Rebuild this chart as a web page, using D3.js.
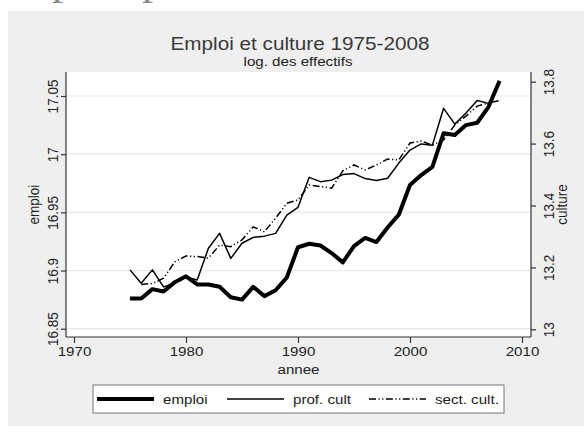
<!DOCTYPE html>
<html>
<head>
<meta charset="utf-8">
<script src="https://cdn.jsdelivr.net/npm/d3@7"></script>
<style>
  body { margin: 0; background: #fff; }
  text { font-family: "Liberation Sans", Arial, sans-serif; }
</style>
</head>
<body>
<script>
// data
var years = d3.range(1975, 2009);
var emploi = [16.876, 16.876, 16.884, 16.882, 16.890, 16.895, 16.888, 16.888, 16.886, 16.877,
              16.875, 16.886, 16.878, 16.883, 16.894, 16.920, 16.923, 16.9215, 16.915, 16.907,
              16.921, 16.928, 16.9245, 16.937, 16.948, 16.9735, 16.982, 16.989, 17.018, 17.0165,
              17.025, 17.027, 17.0405, 17.063];
var profYears = d3.range(1975, 2008);
var profCult = [13.192, 13.149, 13.192, 13.137, 13.150, 13.169, 13.159, 13.262, 13.310, 13.229,
                13.278, 13.297, 13.301, 13.310, 13.369, 13.394, 13.491, 13.477, 13.482, 13.500,
                13.503, 13.487, 13.481, 13.488, 13.537, 13.579, 13.599, 13.595, 13.714, 13.663,
                13.699, 13.739, 13.730];
var sectYears = d3.range(1976, 2009);
var sectCult = [13.145, 13.148, 13.165, 13.218, 13.237, 13.235, 13.230, 13.272, 13.267,
                13.289, 13.331, 13.315, 13.359, 13.407, 13.418, 13.466, 13.461, 13.456, 13.512,
                13.531, 13.515, 13.531, 13.550, 13.547, 13.602, 13.608, 13.595, 13.612, 13.660,
                13.689, 13.721, 13.731, 13.739];
var xTicks = [1970, 1980, 1990, 2000, 2010];
var leftTicks = [16.85, 16.9, 16.95, 17, 17.05];
var rightTicks = [13, 13.2, 13.4, 13.6, 13.8];
var legendLabels = ["emploi", "prof. cult", "sect. cult."];

var w = 584, h = 426;
var plotLeft = 66, plotRight = 531, plotTop = 72, plotBottom = 337;
var sx = 1.12; // the picture is a bit stretched sideways

var svg = d3.select("body").append("svg")
  .attr("width", w)
  .attr("height", h);

// cut-off letters from the page above
svg.append("text").attr("x", 52).attr("y", -6)
  .style("font-family", "Liberation Serif, serif").style("font-size", "44px")
  .attr("fill", "#888").text("p");
svg.append("text").attr("x", 142).attr("y", -6)
  .style("font-family", "Liberation Serif, serif").style("font-size", "44px")
  .attr("fill", "#888").text("p");

// grey background
svg.append("rect")
  .attr("x", 8).attr("y", 11)
  .attr("width", w - 8).attr("height", h - 11)
  .attr("fill", "#efefef");

// plot region
svg.append("rect")
  .attr("x", plotLeft).attr("y", plotTop)
  .attr("width", plotRight - plotLeft).attr("height", plotBottom - plotTop)
  .attr("fill", "#fff");

var x = d3.scaleLinear().domain([1970, 2010]).range([74, 522]);
var yL = d3.scaleLinear().domain([16.85, 17.05]).range([328.7, 96]);
var yR = d3.scaleLinear().domain([13, 13.8]).range([329.3, 81.7]);

// gridlines
svg.selectAll(".grid")
  .data(leftTicks)
  .enter().append("line")
  .attr("class", "grid")
  .attr("x1", plotLeft).attr("x2", plotRight)
  .attr("y1", function(d) { return yL(d); })
  .attr("y2", function(d) { return yL(d); })
  .attr("stroke", "#e8e8e8")
  .attr("stroke-width", 1.2);

// lines
var lineEmploi = d3.line()
  .x(function(d, i) { return x(years[i]); })
  .y(function(d) { return yL(d); });
var lineProf = d3.line()
  .x(function(d, i) { return x(profYears[i]); })
  .y(function(d) { return yR(d); });
var lineSect = d3.line()
  .x(function(d, i) { return x(sectYears[i]); })
  .y(function(d) { return yR(d); });

var dashDot = "7,2.5,1.2,2.5,1.2,2.5";

svg.append("path").datum(sectCult)
  .attr("d", lineSect)
  .attr("fill", "none").attr("stroke", "#000")
  .attr("stroke-width", 1.5)
  .attr("stroke-dasharray", dashDot);

svg.append("path").datum(profCult)
  .attr("d", lineProf)
  .attr("fill", "none").attr("stroke", "#000")
  .attr("stroke-width", 1.5)
  .attr("stroke-linejoin", "round");

svg.append("path").datum(emploi)
  .attr("d", lineEmploi)
  .attr("fill", "none").attr("stroke", "#000")
  .attr("stroke-width", 4)
  .attr("stroke-linejoin", "round");

// axes
var xAxis = d3.axisBottom(x).tickValues(xTicks).tickSize(6).tickPadding(2).tickFormat(d3.format("d"));
var gx = svg.append("g")
  .attr("transform", "translate(0," + plotBottom + ")")
  .call(xAxis);
gx.select(".domain").attr("d", "M" + plotLeft + ",0H" + plotRight);
gx.selectAll(".tick text")
  .attr("y", null).attr("dy", null)
  .attr("transform", "translate(0,19) scale(" + sx + ",1)");

var gl = svg.append("g")
  .attr("transform", "translate(" + plotLeft + ",0)")
  .call(d3.axisLeft(yL).tickValues(leftTicks).tickSize(5).tickFormat(function(d) { return d3.format("")(d); }));
gl.select(".domain").attr("d", "M0," + plotTop + "V" + plotBottom);
gl.selectAll(".tick text")
  .attr("x", null).attr("dy", null)
  .attr("transform", "translate(-8,0) scale(" + sx + ",1) rotate(-90)")
  .style("text-anchor", "middle");

var gr = svg.append("g")
  .attr("transform", "translate(" + plotRight + ",0)")
  .call(d3.axisRight(yR).tickValues(rightTicks).tickSize(5).tickFormat(function(d) { return d3.format("")(d); }));
gr.select(".domain").attr("d", "M0," + plotTop + "V" + plotBottom);
gr.selectAll(".tick text")
  .attr("x", null).attr("dy", null)
  .attr("transform", "translate(23,0) scale(" + sx + ",1) rotate(-90)")
  .style("text-anchor", "middle");

svg.selectAll(".domain").attr("stroke", "#333").attr("stroke-width", 1.2);
svg.selectAll(".tick line").attr("stroke", "#333").attr("stroke-width", 1.2);
svg.selectAll(".tick text")
  .style("font-family", "Liberation Sans, Arial, sans-serif")
  .style("font-size", "13.5px")
  .attr("fill", "#222");

// axis titles
svg.append("text")
  .attr("transform", "translate(39," + ((plotTop + plotBottom) / 2) + ") scale(" + sx + ",1) rotate(-90)")
  .style("text-anchor", "middle").style("font-size", "13.5px").attr("fill", "#222")
  .text("emploi");
svg.append("text")
  .attr("transform", "translate(567," + ((plotTop + plotBottom) / 2) + ") scale(" + sx + ",1) rotate(-90)")
  .style("text-anchor", "middle").style("font-size", "13.5px").attr("fill", "#222")
  .text("culture");
svg.append("text")
  .attr("transform", "translate(" + ((plotLeft + plotRight) / 2) + ",374) scale(" + sx + ",1)")
  .style("text-anchor", "middle").style("font-size", "13.5px").attr("fill", "#222")
  .text("annee");

// titles
svg.append("text")
  .attr("transform", "translate(300,50) scale(" + sx + ",1)")
  .style("text-anchor", "middle").style("font-size", "18.5px").attr("fill", "#3a3a3a")
  .text("Emploi et culture 1975-2008");
svg.append("text")
  .attr("transform", "translate(298,66) scale(" + sx + ",1)")
  .style("text-anchor", "middle").style("font-size", "13.5px").attr("fill", "#222")
  .text("log. des effectifs");

// legend
svg.append("rect")
  .attr("x", 93).attr("y", 385)
  .attr("width", 411).attr("height", 28)
  .attr("fill", "#fff").attr("stroke", "#777").attr("stroke-width", 1);

var legX = [97, 227, 369];
var legW = [4, 1.5, 1.5];
var legDash = [null, null, dashDot];
var legend = svg.selectAll(".legend")
  .data(legendLabels)
  .enter().append("g")
  .attr("class", "legend");
legend.append("line")
  .attr("x1", function(d, i) { return legX[i]; })
  .attr("x2", function(d, i) { return legX[i] + 57; })
  .attr("y1", 399).attr("y2", 399)
  .attr("stroke", "#000")
  .attr("stroke-width", function(d, i) { return legW[i]; })
  .attr("stroke-dasharray", function(d, i) { return legDash[i]; });
legend.append("text")
  .attr("transform", function(d, i) { return "translate(" + (legX[i] + 66) + ",404) scale(" + sx + ",1)"; })
  .style("font-size", "13.5px").attr("fill", "#222")
  .text(function(d) { return d; });
</script>
</body>
</html>
